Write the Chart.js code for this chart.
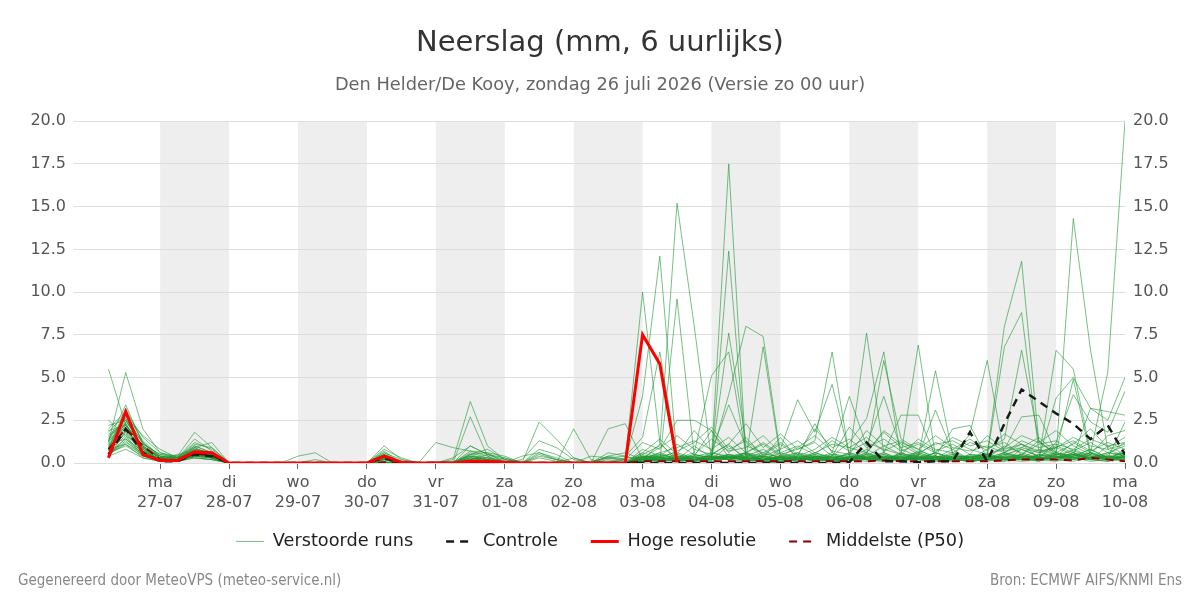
<!DOCTYPE html>
<html>
<head>
<meta charset="utf-8">
<script src="https://cdn.jsdelivr.net/npm/chart.js@4.4.1/dist/chart.umd.min.js"></script>
<style>
  html, body { margin: 0; padding: 0; background: #fff; }
  #wrap { position: relative; width: 1200px; height: 600px; }
  .foot { position: absolute; top: 571px; font: 15px 'DejaVu Sans Condensed', 'DejaVu Sans', sans-serif; color: #888; }
</style>
</head>
<body>
<div id="wrap">
  <canvas id="chart" width="1200" height="600"></canvas>
  <div class="foot" style="left:18px">Gegenereerd door MeteoVPS (meteo-service.nl)</div>
  <div class="foot" style="right:18px">Bron: ECMWF AIFS/KNMI Ens</div>
</div>
<script>
// tijdstappen: uren na zo 26-07 00:00, elke 6 uur vanaf 06:00 t/m ma 10-08 00:00
const times = Array.from({ length: 60 }, (_, i) => 6 + 6 * i);

// x-as: dagen (middernacht)
const tickHours = [24, 48, 72, 96, 120, 144, 168, 192, 216, 240, 264, 288, 312, 336, 360];
const tickDays  = ['ma', 'di', 'wo', 'do', 'vr', 'za', 'zo', 'ma', 'di', 'wo', 'do', 'vr', 'za', 'zo', 'ma'];
const tickDates = ['27-07', '28-07', '29-07', '30-07', '31-07', '01-08', '02-08', '03-08',
                   '04-08', '05-08', '06-08', '07-08', '08-08', '09-08', '10-08'];

// y-as
const yMin = 0, yMax = 20, yStep = 2.5;

// Verstoorde runs (mm per 6 uur)
const run01 = [5.5,2.2,1.0, 0.3,0.2,0.9,0.4, 0,0,0,0, 0,0,0,0, 0,0.5,0.1,0, 0,0.1,0.4,0.2, 0,0,0.3,0.1, 0,0,0,0.2, 10.0,1.2,0.1,0.3, 0.4,0.2,0.6,0.1, 0,0.3,0.2,0.5, 0.2,0.8,0.3,0.1, 0.4,0.2,0.1,0.3, 0.1,0.6,1.1,0.3, 0.4,1.2,0.6,0.2, 0.8];
const run02 = [1.2,5.3,2.0, 0.6,0.3,1.2,0.8, 0,0,0,0, 0,0,0,0, 0,0.3,0,0, 0,0,0.2,0.5, 0.1,0,0,0, 0,0.1,0.3,0.2, 3.9,12.1,0.3,0.1, 0.5,1.1,0.2,0.4, 0.1,0.2,0.6,0.3, 0.1,0.4,1.0,0.5, 0.2,0.6,0.3,0.1, 0.2,0.4,0.9,0.6, 1.0,0.6,0.3,0.5, 1.2];
const run03 = [0.8,3.2,1.2, 0.2,0.1,0.6,0.5, 0,0,0,0, 0,0,0,0, 0,0.2,0,0, 0,0,0,0, 0,0,0,0, 0,0,0.1,0, 0.5,1.0,15.2,8.0, 0.2,0.4,0.1,0.3, 0.2,0.1,0.4,0.2, 0.6,0.3,0.2,0.4, 0.1,0.3,0.8,0.2, 0.3,0.2,0.5,1.3, 0.4,0.2,0.6,0.3, 0.4];
const run04 = [1.5,2.6,0.8, 0.1,0.2,0.4,0.3, 0,0,0,0, 0.4,0.6,0,0, 0,0.4,0,0, 0,0.3,1.0,0.5, 0.2,0,0,0, 0,0,0.4,0.6, 0.2,0.1,9.6,0.4, 1.9,0.3,0.2,0.5, 0.4,0.1,0.3,0.2, 0.3,0.2,0.1,0.6, 0.2,0.1,0.4,0.3, 0.6,0.2,0.3,0.2, 0.3,0.8,0.4,0.2, 0.3];
const run05 = [0.6,1.8,0.5, 0.1,0.1,0.5,0.6, 0,0,0,0, 0,0,0,0, 0,1.0,0.2,0, 0,0,0.3,0.1, 0,0,0.6,0.2, 0,0,0,0, 0.1,0.3,0.2,0.5, 0.3,17.5,0.4,0.2, 0.1,0.2,0.3,0.6, 0.2,0.5,0.3,0.2, 0.7,0.4,0.2,0.1, 0.2,0.4,0.3,0.1, 0.5,0.3,0.2,0.1, 0.2];
const run06 = [1.0,2.3,0.9, 0.4,0.3,0.7,0.5, 0,0,0,0, 0,0,0,0, 0,0.6,0,0, 0,0,0.5,0.8, 0.2,0.1,0,0, 0,0,0,0, 0.2,0.4,0.6,0.3, 0.1,12.4,0.3,0.1, 0.4,0.6,0.2,0.1, 0.3,0.2,0.4,0.2, 0.3,0.6,0.2,0.4, 0.3,0.1,0.8,0.4, 0.9,0.5,0.3,0.6, 0.5];
const run07 = [0.4,1.5,0.6, 0.2,0.4,0.3,0.2, 0,0,0,0, 0,0,0,0, 0,0.3,0,0, 0,0,0,0, 0,0,2.4,1.4, 0.3,0,0,0, 0.4,0.2,0.1,0.3, 0.4,4.0,8.0,7.4, 0.5,0.3,0.1,0.2, 0.1,0.3,0.6,0.2, 0.4,0.2,0.3,0.1, 0.2,0.5,0.4,0.3, 0.2,0.4,0.8,0.3, 0.6];
const run08 = [2.5,1.6,0.4, 0.3,0.2,0.6,0.3, 0,0,0,0, 0,0,0,0, 0,0.2,0,0, 0,0.2,3.6,1.0, 0.2,0,0,0, 0,0,0.2,0, 0.3,0.1,0.2,0.1, 0.2,0.5,0.3,6.8, 0.3,0.2,0.5,0.1, 0.4,0.2,0.2,0.3, 0.2,0.3,0.1,0.5, 0.4,0.3,0.2,0.4, 0.6,0.3,0.2,0.4, 0.3];
const run09 = [0.9,2.8,1.1, 0.5,0.3,1.4,0.7, 0,0,0,0, 0,0,0,0, 0,0.8,0.3,0, 0,0,2.7,0.4, 0,0,0,0, 0,0,0.6,0.4, 1.5,6.5,0.4,0.2, 0.3,7.6,1.2,0.3, 0.2,0.4,0.2,0.3, 0.5,0.2,0.1,0.3, 0.2,0.4,0.3,0.2, 0.1,0.3,0.2,0.2, 0.3,0.6,0.2,0.1, 0.4];
const run10 = [1.3,2.0,0.7, 0.2,0.1,0.6,0.4, 0,0,0,0, 0,0,0,0, 0,0,0,0, 1.2,0.9,0.7,0.6, 0.4,0,0,0, 0,0,0,0, 0.2,1.1,0.3,0.6, 5.1,6.5,0.5,0.3, 1.5,0.2,0.3,0.2, 0.2,0.1,0.3,0.2, 0.6,0.3,0.2,0.1, 0.2,0.2,0.4,0.3, 0.2,0.3,0.1,0.2, 0.2];
const run11 = [0.7,2.4,1.2, 0.4,0.2,1.0,0.6, 0,0,0,0, 0,0,0,0, 0,0.2,0,0, 0,0,0.2,0.1, 0,0.2,1.3,0.9, 0.2,0,0,0, 0.3,0.6,0.2,1.0, 0.3,0.2,0.6,1.2, 0.5,0.8,1.3,6.5, 0.4,0.3,0.2,0.1, 0.3,0.1,0.2,0.3, 0.5,0.2,0.3,0.1, 0.4,0.2,0.3,0.2, 0.5];
const run12 = [1.1,1.4,0.5, 0.1,0.1,0.4,0.3, 0,0,0,0, 0,0,0,0, 0,0,0,0, 0,0,0,0, 0,0,0,0, 2.0,0.2,0,0, 0.1,0.3,0.2,0.1, 0.6,0.3,0.2,0.1, 0.8,3.7,1.8,4.6, 0.5,0.3,0.2,0.6, 0.3,0.2,0.5,0.2, 0.4,0.3,0.2,0.5, 0.2,0.1,0.3,0.4, 0.3];
const run13 = [0.5,1.2,0.6, 0.3,0.2,0.8,0.4, 0,0,0,0, 0,0,0,0, 0,0.1,0,0, 0,0,0.1,0, 0,0,0,0, 0,0,2.0,2.3, 0.2,0.2,0.5,0.3, 0.2,0.4,0.6,0.3, 0.1,0.3,0.4,0.2, 0.3,7.6,0.6,0.2, 0.3,0.4,0.2,0.1, 0.3,0.6,0.3,0.2, 0.5,0.7,0.4,0.3, 0.6];
const run14 = [1.6,2.2,0.9, 0.3,0.1,0.5,0.5, 0,0,0,0, 0,0,0,0, 0,0.5,0,0, 0,0,0.4,0.2, 0,0,0.8,0.5, 0,0,0,0, 0.1,0.2,0.3,0.2, 0.3,0.2,0.4,0.8, 0.2,0.3,0.1,0.4, 1.2,2.6,6.5,0.3, 0.5,0.2,0.3,0.1, 0.2,0.1,0.4,0.2, 0.3,0.4,0.6,0.2, 0.4];
const run15 = [0.3,1.9,0.8, 0.2,0.3,1.1,0.9, 0,0,0,0, 0,0,0,0, 0,0.3,0,0, 0,0,0.2,0.3, 0.1,0,0,0, 0,0,0,0, 0.4,0.2,0.1,0.2, 0.2,1.0,0.3,0.2, 0.3,0.6,0.4,0.2, 0.2,0.5,6.0,1.4, 0.8,0.3,0.2,0.4, 0.3,1.0,0.6,0.3, 0.4,0.2,0.5,0.3, 0.3];
const run16 = [2.0,3.0,1.5, 0.6,0.4,0.9,1.2, 0,0,0,0, 0,0,0,0, 0,0.2,0,0, 0,0,0,0, 0,0.4,0.6,0.3, 0,0,0,0, 0.2,0.1,0.2,0.4, 0.4,0.3,0.2,0.1, 0.2,0.5,0.3,0.2, 0.3,0.4,0.2,0.5, 6.9,0.4,0.3,0.2, 0.5,0.2,0.3,0.4, 0.2,0.6,0.3,0.2, 0.4];
const run17 = [0.8,1.1,0.3, 0.1,0.1,0.3,0.2, 0,0,0,0, 0,0,0,0, 0,0,0,0, 0,0,0.6,0.3, 0,0,0,0, 0,0.4,0.3,0.1, 0.6,0.3,0.2,0.1, 0.5,0.2,0.3,0.6, 0.3,0.2,0.2,0.4, 0.3,0.6,0.2,0.5, 0.4,5.4,0.5,0.2, 0.3,0.2,0.1,0.2, 0.1,0.3,0.5,0.2, 0.2];
const run18 = [1.4,2.1,0.6, 0.2,0.5,0.7,0.3, 0,0,0,0, 0,0,0,0, 0,0.6,0.2,0, 0.1,0,0.5,0.2, 0,0,0,0, 0,0,0,0.3, 0.3,0.4,0.1,0.2, 0.3,0.5,0.2,0.4, 0.2,0.4,2.3,0.6, 3.9,1.0,3.9,0.8, 0.4,3.1,0.6,0.3, 0.2,0.5,0.3,0.2, 0.6,0.4,0.3,0.2, 0.5];
const run19 = [0.6,1.0,0.4, 0.1,0.2,0.6,0.6, 0,0,0,0, 0,0,0,0, 0,0,0,0, 0,0,0.3,0.1, 0,0,0.5,0.2, 0,0,0,0, 0.2,0.5,0.3,0.4, 0.2,0.3,0.5,0.2, 0.2,0.4,0.3,0.5, 0.4,0.3,0.6,2.8, 2.8,0.4,2.0,2.2, 0.3,0.3,0.2,0.3, 0.3,0.5,0.2,0.4, 0.6];
const run20 = [1.2,2.7,1.6, 0.8,0.3,0.6,0.4, 0,0,0,0, 0,0,0,0, 0,0.4,0,0, 0,0,0,0, 0.3,0,0,0, 0,0,0,0, 0.5,0.2,0.3,0.2, 0.1,0.3,0.4,0.2, 0.6,0.3,0.2,0.1, 0.2,0.3,0.5,0.2, 0.3,0.2,0.4,1.7, 6.0,0.5,0.8,0.4, 0.5,0.3,0.4,0.2, 0.3];
const run21 = [0.9,1.7,0.7, 0.2,0.1,0.4,0.3, 0,0,0,0, 0,0,0,0, 0,0,0,0, 0,0,0,0, 0,0,0,0, 0,0,0,0, 0.1,0.2,0.4,0.3, 0.3,0.2,0.1,0.2, 0.3,0.1,0.4,0.2, 0.2,0.4,0.3,0.2, 0.5,0.3,0.2,0.4, 0.5,8.0,11.8,1.2, 0.6,0.4,0.8,0.3, 0.2];
const run22 = [2.2,2.5,1.0, 0.3,0.2,0.8,0.6, 0,0,0,0, 0,0,0,0, 0,0.2,0,0, 0,0,0.4,0.3, 0,0,0,0, 0,0,0,0, 0.3,0.5,0.2,0.4, 0.6,0.4,0.3,0.2, 0.4,0.3,0.6,0.3, 0.2,0.5,0.2,0.3, 0.4,0.3,0.6,0.2, 0.4,6.8,8.8,0.7, 0.3,0.5,0.2,1.0, 0.5];
const run23 = [0.5,1.3,0.4, 0.2,0.1,0.5,0.3, 0,0,0,0, 0,0,0,0, 0,0.7,0,0, 0,0,0,0, 0,0,0,0, 0,0,0,0, 0.3,0.2,0.4,0.2, 0.2,0.3,0.6,0.4, 0.3,0.2,0.3,0.2, 0.6,0.3,0.4,0.2, 0.2,0.6,0.3,0.2, 0.8,1.4,6.6,1.3, 0.5,0.5,0.3,0.6, 0.4];
const run24 = [1.8,2.9,1.3, 0.4,0.3,0.7,0.6, 0,0,0,0, 0,0.2,0,0, 0,0.3,0,0, 0,0,0,0, 0,0,0.4,0.2, 0,0,0,0, 0.2,0.3,0.2,0.1, 0.3,0.2,0.5,0.2, 0.4,0.2,0.3,0.1, 0.2,0.3,0.2,0.4, 0.6,0.3,0.2,0.5, 0.4,0.3,0.5,0.2, 6.6,5.5,0.6,0.4, 0.3];
const run25 = [1.0,2.0,0.8, 0.3,0.2,0.4,0.5, 0,0,0,0, 0,0,0,0, 0,0,0,0, 0,0,0.2,0, 0,0,0,0, 0.3,0,0,0, 0.2,0.4,0.1,0.3, 0.2,0.5,0.3,0.2, 0.3,0.5,0.2,0.4, 0.3,0.2,0.5,0.2, 0.2,0.3,0.5,0.2, 0.3,0.4,0.3,0.8, 0.5,14.3,6.6,0.8, 0.4];
const run26 = [0.7,1.6,0.9, 0.1,0.2,0.6,0.4, 0,0,0,0, 0,0,0,0, 0,0.4,0,0, 0,0,0.3,0.2, 0,0,0,0, 0,0,0.3,0.4, 0.1,0.3,0.2,0.5, 0.3,0.2,0.3,0.2, 0.2,0.3,0.5,0.3, 0.4,0.2,0.3,0.3, 0.2,0.2,0.4,0.3, 0.3,0.6,0.4,0.3, 3.8,5.0,3.2,3.0, 2.8];
const run27 = [1.3,3.4,1.1, 0.5,0.4,1.8,0.9, 0,0,0,0, 0,0,0,0, 0,0.3,0,0, 0,0,0,0, 0,0,0,0, 0,0,0,0, 0.2,0.1,0.3,0.2, 0.4,0.3,0.2,0.3, 0.2,0.3,0.2,0.2, 0.3,0.2,0.4,0.3, 0.3,0.4,0.2,0.3, 0.4,0.3,0.2,0.5, 0.4,0.3,0.6,5.3, 20.0];
const run28 = [0.4,0.8,0.3, 0.1,0.1,0.3,0.2, 0,0,0,0, 0,0,0,0, 0,0,0,0, 0,0,0,0, 0,0,0,0, 0,0,0,0, 0.3,0.2,0.2,0.2, 0.3,0.4,0.2,0.1, 0.1,0.2,0.4,0.3, 0.2,0.3,0.2,0.2, 0.3,0.2,0.2,0.2, 0.3,0.2,0.4,0.3, 0.2,0.4,3.2,2.5, 5.0];
const run29 = [1.7,2.3,0.7, 0.2,0.3,0.5,0.4, 0,0,0,0, 0,0,0,0, 0,0.5,0,0, 0,0,0,0, 0,0,0,0, 0,0,0,0, 0.4,0.3,0.5,0.2, 0.2,0.3,0.2,0.4, 0.2,0.2,0.3,0.2, 0.2,0.6,0.3,0.2, 0.3,0.2,0.3,0.4, 0.4,0.3,0.5,0.3, 1.2,4.0,2.4,1.8, 4.2];
const run30 = [0.9,2.2,1.0, 0.3,0.2,0.9,0.5, 0,0,0,0, 0,0,0,0, 0,0,0,0, 0,0,0,0, 0,0,0,0, 0,0,0,0, 0.2,0.2,0.3,0.2, 0.2,0.4,0.3,0.2, 0.3,0.2,0.2,0.3, 0.3,0.2,0.3,0.4, 0.3,0.3,0.2,0.3, 0.5,0.8,2.7,2.8, 0.6,4.9,0.4,0.3, 2.4];
const run31 = [1.1,2.5,0.9, 0.3,0.2,0.7,0.5, 0,0,0,0, 0,0,0,0, 0,0.3,0,0, 0,0,0.5,0.6, 0,0,0,0, 0,0,0.4,0.2, 1.2,0.8,2.5,2.5, 1.9,0.6,1.5,0.4, 0.8,1.3,0.6,1.1, 0.9,1.5,0.7,1.2, 0.8,1.6,0.9,0.7, 1.0,0.6,1.3,0.9, 1.1,0.8,1.4,1.0, 1.2];
const run32 = [0.6,1.4,0.7, 0.2,0.1,0.5,0.3, 0,0,0,0, 0,0,0,0, 0,0,0,0, 0,0,1.0,0.5, 0.3,0,0,0, 0,0,0,0, 0.6,1.4,0.5,1.9, 0.7,3.4,1.0,0.6, 1.2,0.5,2.0,0.9, 1.4,0.6,1.9,1.1, 0.5,1.2,0.8,1.4, 0.7,1.7,1.1,0.6, 0.9,1.3,0.7,1.2, 0.8];
const run33 = [1.9,2.2,1.0, 0.4,0.3,1.0,0.6, 0,0,0,0, 0,0,0,0, 0,0.2,0,0, 0,0,0,0, 0,0,0,0, 0,0,0,0, 0.3,0.9,1.6,0.8, 0.5,1.1,2.3,0.9, 1.7,0.8,1.2,0.4, 2.1,0.9,1.4,0.7, 1.1,0.6,1.5,1.0, 1.3,0.7,0.9,1.5, 0.6,1.1,2.0,0.9, 1.5];
const run34 = [0.8,1.9,0.6, 0.2,0.2,0.6,0.4, 0,0,0,0, 0,0,0,0, 0,0,0,0, 0,0,0.7,0.4, 0,0,0,0, 0,0,0,0, 0.8,0.4,1.1,0.5, 1.4,0.7,0.9,1.6, 0.6,1.0,0.5,1.3, 0.7,1.2,0.8,0.5, 1.4,0.8,0.6,1.2, 0.9,1.2,0.5,1.1, 1.3,0.7,1.2,0.6, 1.0];
const run35 = [1.4,2.6,1.2, 0.3,0.3,0.8,0.6, 0,0,0,0, 0,0,0,0, 0,0.4,0,0, 0,0,0,0, 0,0,0,0, 0,0,0,0, 0.2,0.6,0.9,1.3, 0.8,1.5,0.6,1.1, 0.4,0.9,1.6,0.7, 0.5,1.9,1.0,1.3, 0.6,1.1,1.3,0.8, 0.5,0.9,1.6,1.2, 1.9,1.0,0.5,1.6, 1.9];
const run36 = [0.5,1.1,0.5, 0.1,0.1,0.4,0.3, 0,0,0,0, 0,0,0,0, 0,0.2,0,0, 0,0,0.3,0.2, 0,0,0,0, 0,0,0,0, 0.4,0.3,0.7,1.2, 2.1,0.8,1.3,0.5, 1.1,0.4,0.8,1.5, 0.9,0.6,1.8,0.9, 1.2,0.7,1.1,0.5, 1.6,0.8,1.1,0.7, 0.9,1.5,1.0,0.8, 1.1];

const runs = [run01, run02, run03, run04, run05, run06, run07, run08, run09, run10,
              run11, run12, run13, run14, run15, run16, run17, run18, run19, run20,
              run21, run22, run23, run24, run25, run26, run27, run28, run29, run30,
              run31, run32, run33, run34, run35, run36];

// Controle run
const controle = [0.5,2.0,0.6, 0.1,0.1,0.5,0.4, 0,0,0,0, 0,0,0,0, 0,0.3,0,0, 0,0,0,0, 0,0,0,0, 0,0,0,0, 0,0,0,0, 0,0,0,0, 0,0,0,0, 0.05,1.2,0.1,0.1, 0.05,0.1,0.1,1.8, 0.1,2.3,4.3,3.6, 2.9,2.3,1.4,2.2, 0.5];

// Hoge resolutie (loopt tot 03-08 12:00)
const hogeResolutie = [0.3,3.0,0.5, 0.15,0.15,0.65,0.6, 0,0,0,0, 0,0,0,0, 0,0.4,0.05,0, 0,0,0.1,0.1, 0.05,0,0,0, 0,0,0,0, 7.5,5.8,0.05];

// Middelste (P50)
const mediaan = [0.8,2.0,1.0, 0.2,0.15,0.55,0.45, 0,0,0,0, 0,0,0,0, 0,0.05,0,0, 0,0,0.05,0.05, 0,0,0,0, 0,0,0,0, 0.1,0.1,0.1,0.1, 0.1,0.1,0.1,0.1, 0.1,0.1,0.1,0.1, 0.1,0.1,0.15,0.1, 0.1,0.1,0.1,0.1, 0.1,0.15,0.2,0.2, 0.2,0.15,0.3,0.2, 0.1];

const toXY = arr => arr.map((v, i) => ({ x: times[i], y: v }));

const datasets = runs.map((r, i) => ({
  label: i === 0 ? 'Verstoorde runs' : '',
  data: toXY(r),
  borderColor: 'rgba(30,150,50,0.6)',
  borderWidth: 1,
  order: 3,
}));
datasets.push({ label: 'Controle', data: toXY(controle), borderColor: '#1a1a1a', borderWidth: 2.5, borderDash: [8, 6], order: 1 });
datasets.push({ label: 'Hoge resolutie', data: toXY(hogeResolutie), borderColor: '#ff0000', borderWidth: 3, order: 0 });
datasets.push({ label: 'Middelste (P50)', data: toXY(mediaan), borderColor: '#8b0000', borderWidth: 2, borderDash: [8, 6], order: 2 });

// grijze banden: om de dag, vanaf ma 27-07
const dayBands = {
  id: 'dayBands',
  beforeDraw(chart) {
    const { ctx, chartArea, scales: { x } } = chart;
    ctx.save();
    ctx.fillStyle = '#eeeeee';
    tickHours.forEach((h, i) => {
      if (i % 2 !== 0 || i === tickHours.length - 1) return;
      const x0 = x.getPixelForValue(h), x1 = x.getPixelForValue(h + 24);
      ctx.fillRect(x0, chartArea.top, x1 - x0, chartArea.bottom - chartArea.top);
    });
    ctx.restore();
  }
};

// legenda: ruime horizontale afstand, maar compact in de hoogte
const legendFit = {
  id: 'legendFit',
  beforeInit(chart) {
    if (!chart.legend) return;
    const fit = chart.legend.fit;
    chart.legend.fit = function () { fit.call(this); this.height = 56; };
  },
  afterLayout(chart) {
    const lg = chart.legend;
    if (!lg) return;
    lg.top -= 17; lg.bottom -= 17;
  }
};

Chart.defaults.font.family = "'DejaVu Sans', sans-serif";
Chart.defaults.color = '#555';

new Chart(document.getElementById('chart'), {
  type: 'line',
  data: { datasets },
  plugins: [dayBands, legendFit],
  options: {
    responsive: false,
    animation: false,
    layout: { padding: { left: 0, right: 0, top: 0, bottom: 27.4 } },
    elements: { point: { radius: 0 }, line: { tension: 0, fill: false } },
    plugins: {
      title: {
        display: true, text: 'Neerslag (mm, 6 uurlijks)', color: '#333',
        font: { size: 29, weight: 'normal' }, padding: { top: 26, bottom: 14 }
      },
      subtitle: {
        display: true, text: 'Den Helder/De Kooy, zondag 26 juli 2026 (Versie zo 00 uur)', color: '#666',
        font: { size: 17.8, weight: 'normal' }, padding: { top: 0, bottom: 25 }
      },
      legend: {
        position: 'bottom',
        labels: {
          filter: (item, data) => {
            item.lineDash = data.datasets[item.datasetIndex].borderDash || [];
            return item.text !== '';
          },
          sort: (a, b) => a.datasetIndex - b.datasetIndex,
          usePointStyle: true, pointStyle: 'line', pointStyleWidth: 28,
          padding: 33, color: '#222', font: { size: 17.7 }
        }
      },
      tooltip: { enabled: false }
    },
    scales: {
      x: {
        type: 'linear', min: -6, max: 360,
        afterBuildTicks: s => { s.ticks = tickHours.map(v => ({ value: v })); },
        ticks: {
          autoSkip: false, maxRotation: 0, color: '#555', font: { size: 16, lineHeight: 1.3 },
          callback: v => { const i = tickHours.indexOf(v); return [tickDays[i], tickDates[i]]; }
        },
        grid: { drawOnChartArea: false, tickLength: 6, color: '#666' },
        border: { display: false }
      },
      y: {
        position: 'left', min: yMin, max: yMax,
        afterFit: s => { s.width = 74; },
        ticks: { stepSize: yStep, padding: 8, color: '#555', font: { size: 16 }, callback: v => v.toFixed(1) },
        grid: { color: '#dddddd', drawTicks: false },
        border: { display: false }
      },
      y2: {
        position: 'right', min: yMin, max: yMax,
        afterFit: s => { s.width = 75; },
        ticks: { stepSize: yStep, padding: 8, color: '#555', font: { size: 16 }, callback: v => v.toFixed(1) },
        grid: { display: false, drawTicks: false },
        border: { display: false }
      }
    }
  }
});
</script>
</body>
</html>
